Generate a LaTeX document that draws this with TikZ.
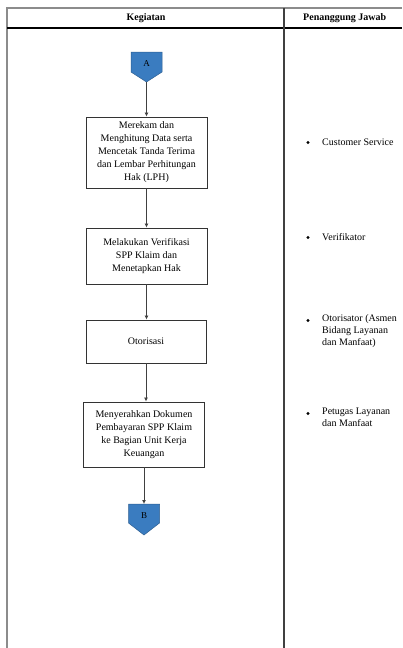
\documentclass[tikz,border=0pt]{standalone}
\usepackage{fontspec}
\setmainfont{Liberation Serif}
\usetikzlibrary{arrows.meta}
\definecolor{conblue}{HTML}{3A7CC0}
\definecolor{conedge}{HTML}{2E5F91}
\begin{document}
\begin{tikzpicture}[x=1pt,y=-1pt,
  tbl/.style={line width=1.3pt,draw=black!65},
  stepbox/.style={draw=black!80,line width=0.9pt,align=center,inner sep=0pt,
    font=\fontsize{10}{13}\selectfont},
  flow/.style={draw=black!75,line width=0.8pt,-{Latex[length=4pt,width=4pt]}},
  conn/.style={fill=conblue,draw=conedge,line width=0.5pt},
  lbl/.style={inner sep=0pt,font=\fontsize{10}{12}\selectfont},
  dot/.style={circle,fill=black,inner sep=0pt,minimum size=3.2pt},
  hdr/.style={inner sep=0pt,font=\bfseries\fontsize{10}{12}\selectfont}]
\useasboundingbox (0,0) rectangle (402,648);
% table
\draw[tbl,draw=black!45] (7,648) -- (7,8) -- (402,8);
\draw[line width=1.1pt,draw=black] (7,28) -- (402,28);
\draw[tbl,draw=black!75] (284,8) -- (284,648);
\node[hdr] (h1) at (146,18) {Kegiatan};
\node[hdr,anchor=west] (h2) at (303,18) {Penanggung Jawab};
% connector A
\draw[conn] (131,52) -- (162,52) -- (162,72) -- (146.5,82) -- (131,72) -- cycle;
\node[inner sep=0pt,font=\fontsize{9}{10}\selectfont] (A) at (146.5,64) {A};
\coordinate (Atip) at (146.5,82);
% boxes
\node[stepbox,minimum width=121pt,minimum height=71pt] (b1) at (146.5,152.5)
  {Merekam dan\\Menghitung Data serta\\Mencetak Tanda Terima\\dan Lembar Perhitungan\\Hak (LPH)};
\node[stepbox,minimum width=121pt,minimum height=56pt] (b2) at (146.5,256)
  {Melakukan Verifikasi\\SPP Klaim dan\\Menetapkan Hak};
\node[stepbox,minimum width=120pt,minimum height=43pt] (b3) at (146,341.5)
  {Otorisasi};
\node[stepbox,minimum width=121pt,minimum height=65pt] (b4) at (144,434.5)
  {Menyerahkan Dokumen\\Pembayaran SPP Klaim\\ke Bagian Unit Kerja\\Keuangan};
% connector B
\draw[conn] (128.5,504) -- (159.5,504) -- (159.5,523) -- (144,535) -- (128.5,523) -- cycle;
\node[inner sep=0pt,font=\fontsize{9}{10}\selectfont] (B) at (144,516) {B};
\coordinate (Btop) at (144,504);
% flow
\draw[flow] (Atip) -- (b1.north);
\draw[flow] (b1.south) -- (b2.north);
\draw[flow] (b2.south) -- (b2.south |- b3.north);
\draw[flow] (b3.south) -- (b3.south |- b4.north);
\draw[flow] (b4.south) -- (Btop);
% responsible
\node[dot] (d1) at (308,142.5) {};
\node[lbl,anchor=west] (r1) at (322,142) {Customer Service};
\node[dot] (d2) at (308,237.5) {};
\node[lbl,anchor=west] (r2) at (322,237) {Verifikator};
\node[dot] (d3) at (308,320.5) {};
\node[lbl,anchor=north west,align=left] (r3) at (322,314.5) {Otorisator (Asmen\\Bidang Layanan\\dan Manfaat)};
\node[dot] (d4) at (308,413.5) {};
\node[lbl,anchor=north west,align=left] (r4) at (322,407.5) {Petugas Layanan\\dan Manfaat};
\end{tikzpicture}
\end{document}
